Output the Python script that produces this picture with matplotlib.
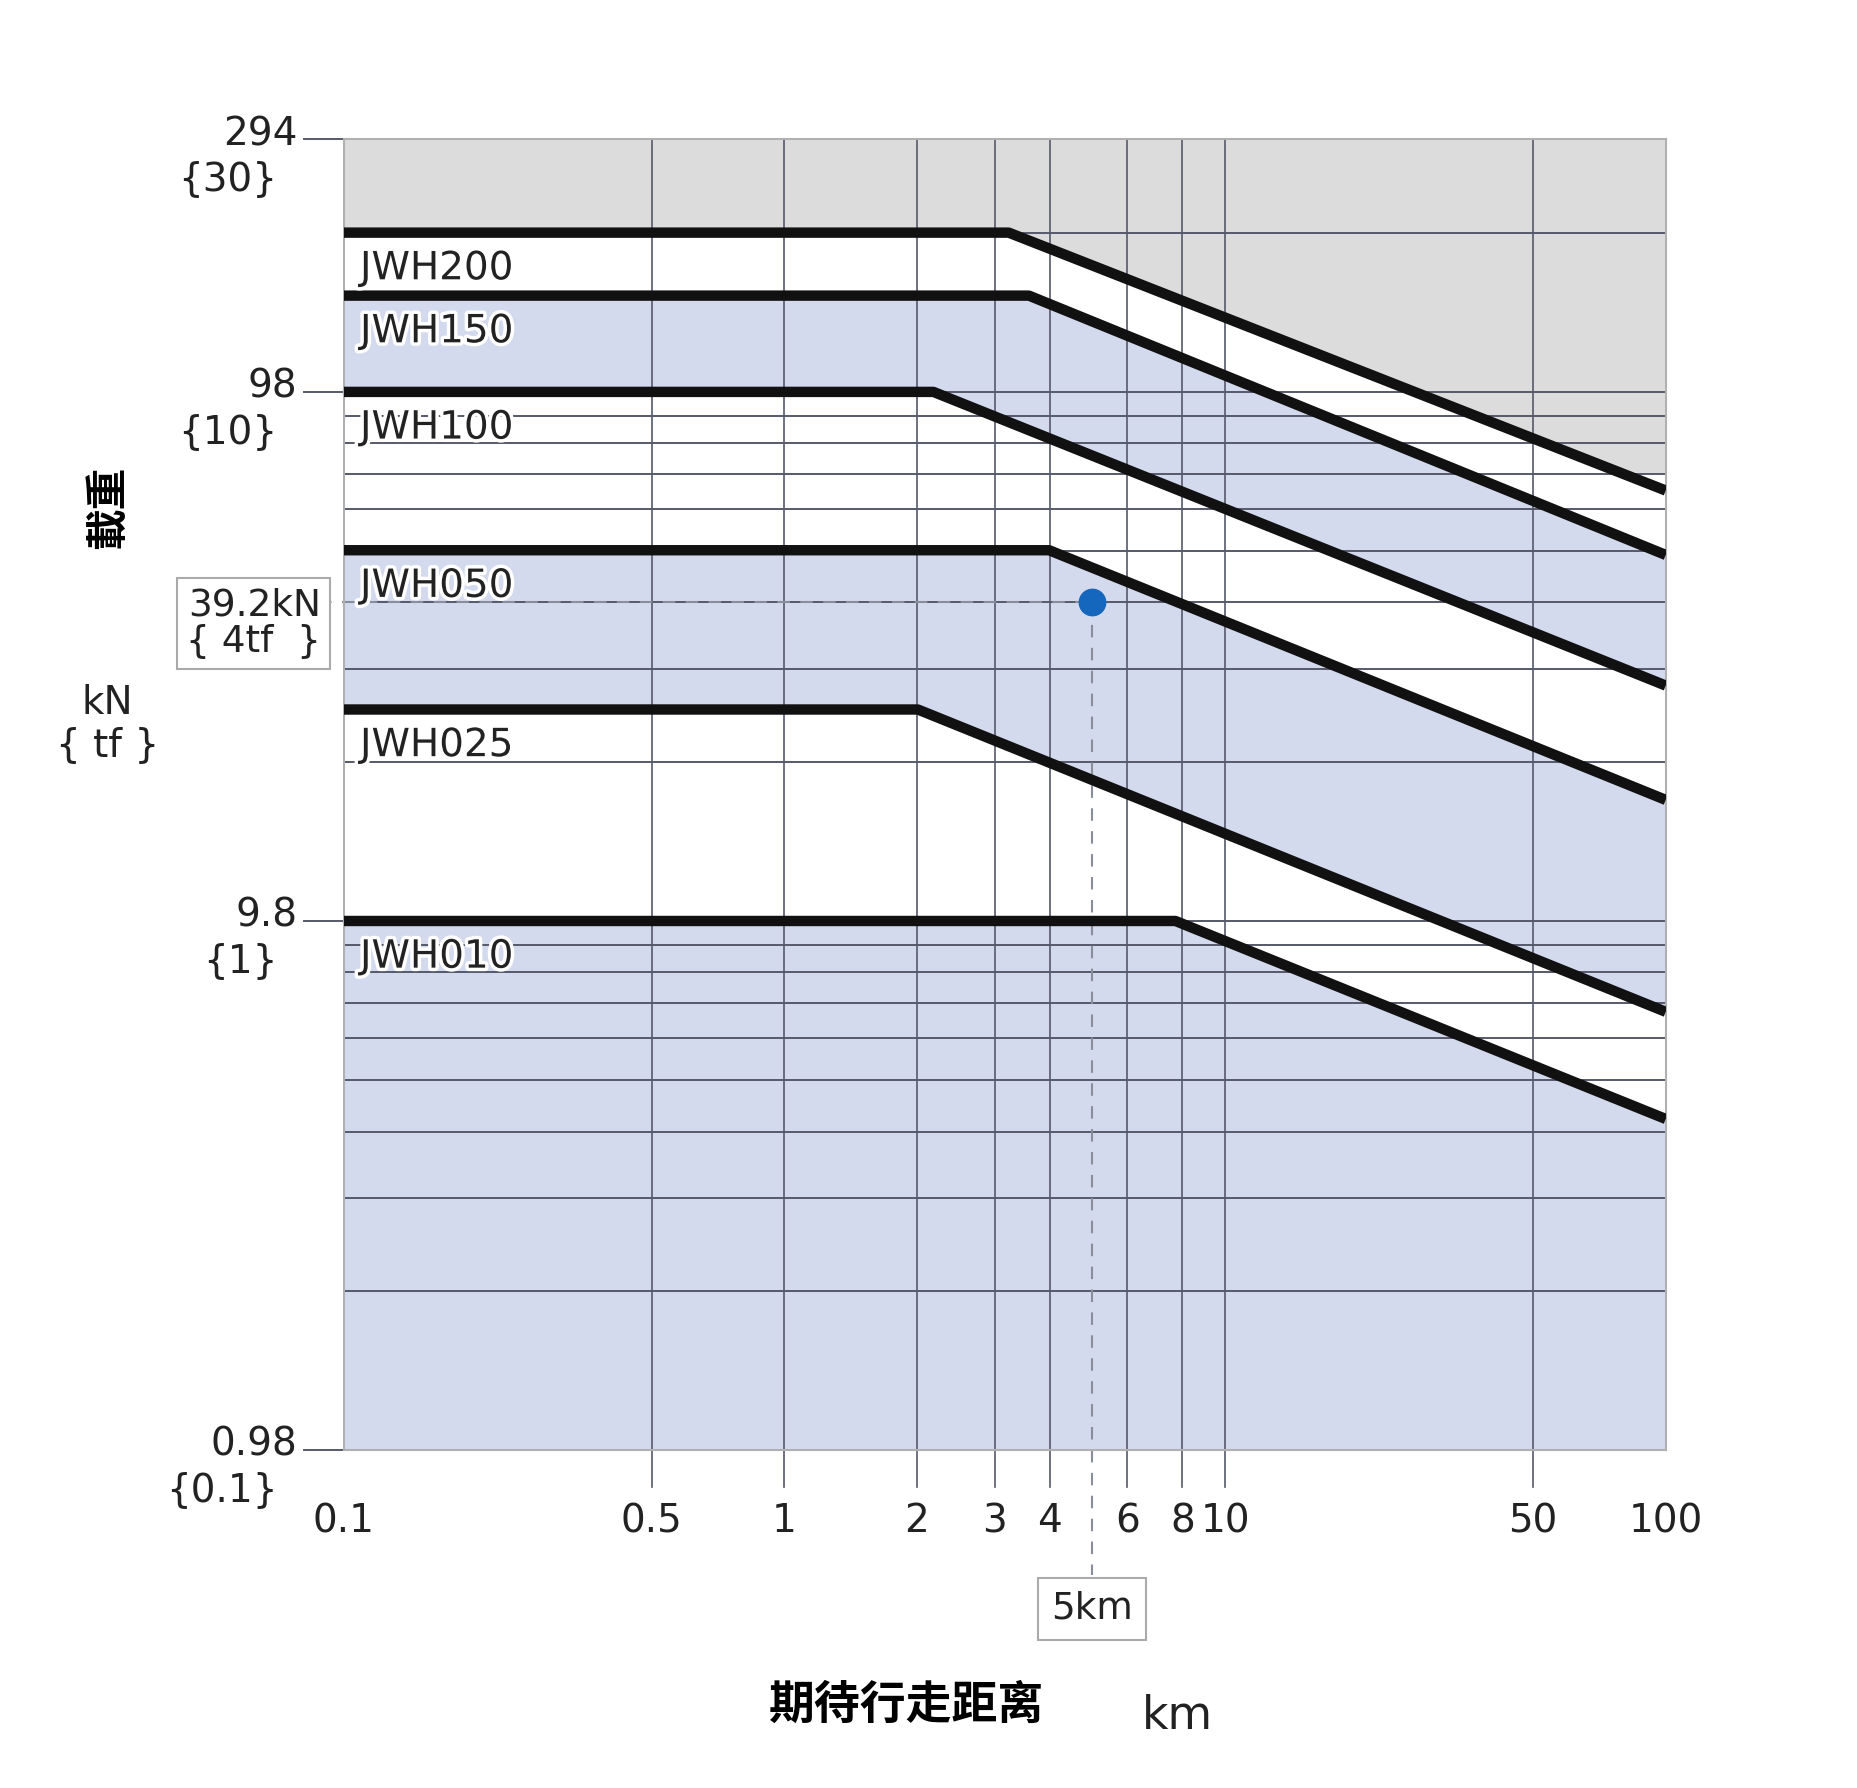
import numpy as np
import matplotlib
matplotlib.use("Agg")
import matplotlib.pyplot as plt
import matplotlib.patheffects as pe
from matplotlib.transforms import blended_transform_factory

plt.rcParams['font.family'] = ['DejaVu Sans', 'Noto Sans CJK SC']

# series: flat load up to knee, then falls to end value at 100 km
names = ['JWH200', 'JWH150', 'JWH100', 'JWH050', 'JWH025', 'JWH010']
flat_load = [196, 149, 98, 49.2, 24.6, 9.8]
knee_km = [3.23, 3.59, 2.18, 3.99, 2.01, 7.72]
end_load = [63.8, 48.2, 27.3, 16.6, 6.6, 4.14]

x_ticks = [0.1, 0.5, 1, 2, 3, 4, 6, 8, 10, 50, 100]
x_tick_labels = ['0.1', '0.5', '1', '2', '3', '4', '6', '8', '10', '50', '100']
x_grid = [0.5, 1, 2, 3, 4, 6, 8, 10, 50]
y_major = [294, 98, 9.8, 0.98]
y_top_lbl = ['294', '98', '9.8', '0.98']
y_bot_lbl = ['{30}', '{10}', '{1}', '{0.1}']
y_grid = [0.98 * k * 10 ** n for n in range(3) for k in range(1, 10) if 0.98 * k * 10 ** n < 290] + [294]
gray_floor = 68.6
point_km, point_kn = 5, 39.2

fig = plt.figure(figsize=(18.57, 17.88), dpi=100)
ax = fig.add_axes([0.185, 0.189, 0.712, 0.733])
ax.set_xscale('log')
ax.set_yscale('log')
ax.set_xlim(0.1, 100)
ax.set_ylim(0.98, 294)

xs = np.logspace(-1, 2, 600)
curves = []
for f, k, e in zip(flat_load, knee_km, end_load):
    c = 10 ** np.interp(np.log10(xs), np.log10([0.1, k, 100]), np.log10([f, f, e]))
    curves.append(c)

blue = '#d3daee'
ax.fill_between(xs, np.maximum(curves[0], gray_floor), 294, color='#dcdcdc', lw=0, zorder=0)
ax.fill_between(xs, curves[2], curves[1], color=blue, lw=0, zorder=0)
ax.fill_between(xs, curves[4], curves[3], color=blue, lw=0, zorder=0)
ax.fill_between(xs, 0.98, curves[5], color=blue, lw=0, zorder=0)

gcol = '#55596a'
for y in y_grid:
    ax.axhline(y, color=gcol, lw=1.4, zorder=1)
for x in x_grid:
    ax.axvline(x, color=gcol, lw=1.2, zorder=1)
    ax.plot([x, x], [0.98, 0.98 * 10 ** -0.07], color=gcol, lw=1.2, clip_on=False)
trans_y = blended_transform_factory(ax.transAxes, ax.transData)
for y in y_major:
    ax.plot([-0.03, 0], [y, y], color=gcol, lw=1.4, transform=trans_y, clip_on=False)

for s in ax.spines.values():
    s.set_color('#b0b0b0')
    s.set_linewidth(1.5)
ax.set_xticks([])
ax.set_yticks([])
ax.minorticks_off()

for nm, f, k, e in zip(names, flat_load, knee_km, end_load):
    ax.plot([0.1, k, 100], [f, f, e], color='#111111', lw=7.5, solid_capstyle='butt', zorder=3)
    ax.text(0.109, f * 0.93, nm, fontsize=28, va='top', ha='left', color='#222222', zorder=4,
            path_effects=[pe.withStroke(linewidth=5, foreground='white')])

ax.plot([0.088, point_km], [point_kn, point_kn], ls=(0, (6, 5)), color='#8a8e9a', lw=1.5, clip_on=False, zorder=2)
ax.plot([point_km, point_km], [point_kn, 0.57], ls=(0, (6, 5)), color='#8a8e9a', lw=1.5, clip_on=False, zorder=2)
ax.plot(point_km, point_kn, 'o', color='#1566bd', ms=19, zorder=5)

for x, lbl in zip(x_ticks, x_tick_labels):
    ax.text(x, 0.98 * 10 ** -0.135, lbl, fontsize=28, ha='center', va='center', color='#222222')
for y, t, b in zip(y_major, y_top_lbl, y_bot_lbl):
    ax.text(-0.035, y * 10 ** 0.01, t, transform=trans_y, fontsize=28, ha='right', va='center', color='#222222')
    ax.text(-0.05, y * 10 ** -0.075, b, transform=trans_y, fontsize=28, ha='right', va='center', color='#222222')

box = dict(boxstyle='square,pad=0.25', fc='white', ec='#aaaaaa', lw=1.5)
ax.text(-0.017, point_kn * 10 ** -0.04, '39.2kN\n{ 4tf  }', transform=trans_y, fontsize=27, ha='right',
        va='center', linespacing=1.0, bbox=box, color='#222222')
ax.text(point_km, 0.98 * 10 ** -0.3, '5km', fontsize=27, ha='center', va='center', bbox=dict(
    boxstyle='square,pad=0.35', fc='white', ec='#aaaaaa', lw=1.5), color='#222222')

fig.text(0.058, 0.716, '載重', rotation=90, fontsize=30, fontweight='bold', ha='center', va='center',
         family=['Noto Sans CJK SC'])
fig.text(0.058, 0.595, 'kN\n{ tf }', fontsize=28, ha='center', va='center', linespacing=1.15, color='#222222')
fig.text(0.488, 0.046, '期待行走距离', fontsize=33, fontweight='bold', ha='center', va='center',
         family=['Noto Sans CJK SC'])
fig.text(0.634, 0.040, 'km', fontsize=33, ha='center', va='center', color='#222222')

fig.savefig('out.png', dpi=100, facecolor='white')
